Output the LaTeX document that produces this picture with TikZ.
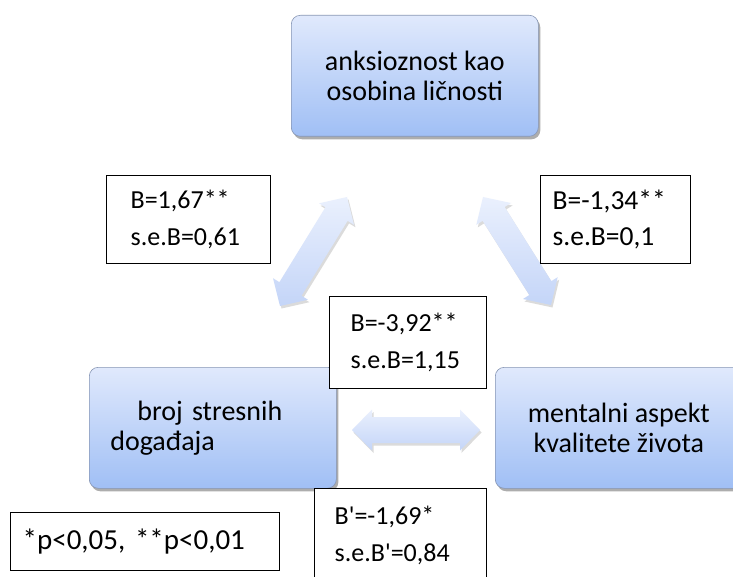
\documentclass[tikz,border=0pt]{standalone}
\usepackage{fontspec}
\setmainfont{Carlito}
\usetikzlibrary{calc,shadows}
\definecolor{boxtop}{RGB}{224,233,252}
\definecolor{boxbot}{RGB}{160,191,245}
\definecolor{boxline}{RGB}{135,150,180}
\definecolor{arrtop}{RGB}{234,240,253}
\definecolor{arrbot}{RGB}{196,213,248}
\tikzset{
  mainbox/.style={rectangle, rounded corners=9pt, draw=boxline, line width=0.6pt,
    top color=boxtop, bottom color=boxbot, minimum width=247pt, minimum height=121pt,
    inner sep=0pt, anchor=north west, font=\fontsize{28}{30}\selectfont,
    drop shadow={shadow xshift=2pt, shadow yshift=-3pt, opacity=0.4, fill=black!80}},
  labelbox/.style={rectangle, draw=black, line width=1.3pt, fill=white, inner ysep=0pt,
    anchor=north west, align=left, font=\fontsize{26}{37.5}\selectfont},
  blockarr/.style={top color=arrtop, bottom color=arrbot,
    drop shadow={shadow xshift=1.5pt, shadow yshift=-2.5pt, opacity=0.2, fill=black!70}}
}
\newcommand\blockarrow[2]{%
  \coordinate (#1h) at ($(#1)!20pt!(#2)$);
  \coordinate (#2h) at ($(#2)!20pt!(#1)$);
  \path[blockarr] (#1) -- ($(#1h)!20.5pt!90:(#2)$) -- ($(#1h)!13pt!90:(#2)$)
    -- ($(#2h)!13pt!-90:(#1)$) -- ($(#2h)!20.5pt!-90:(#1)$) -- (#2)
    -- ($(#2h)!20.5pt!90:(#1)$) -- ($(#2h)!13pt!90:(#1)$)
    -- ($(#1h)!13pt!-90:(#2)$) -- ($(#1h)!20.5pt!-90:(#2)$) -- cycle;}
\begin{document}
\begin{tikzpicture}[x=1pt, y=-1pt]
\clip (0,0) rectangle (733,577);
\fill[white] (0,0) rectangle (733,577);
% connector ends
\coordinate (la) at (347,197);
\coordinate (lb) at (280,306);
\coordinate (ra) at (483,197);
\coordinate (rb) at (551,305);
\coordinate (ha) at (352,430);
\coordinate (hb) at (480,430);
\blockarrow{la}{lb}
\blockarrow{ra}{rb}
\blockarrow{ha}{hb}
% main boxes
\node[mainbox, align=center] (anx) at (291,15) {anksioznost kao\\osobina ličnosti};
\node[mainbox, align=left, text width=205pt, inner xsep=21pt, minimum width=0pt] (stres) at (89,367) {\hspace*{27pt}broj stresnih\\događaja};
\node[mainbox, align=center] (mental) at (495,367) {mentalni aspekt\\kvalitete života};
% labels
\node[labelbox, minimum width=160pt, minimum height=88pt, text width=116pt, inner xsep=24pt] (l1) at (106,175) {B=1,67**\\s.e.B=0,61};
\node[labelbox, minimum width=150pt, minimum height=88pt, text width=126pt, inner xsep=12pt, font=\fontsize{27.5}{36}\selectfont] (l2) at (540,175) {B=-1,34**\\s.e.B=0,1};
\node[labelbox, minimum width=157pt, minimum height=92pt, text width=115pt, inner xsep=21pt] (l3) at (329,296) {B=-3,92**\\s.e.B=1,15};
\node[labelbox, minimum width=172pt, minimum height=94pt, text width=132pt, inner xsep=20pt] (l4) at (314,488) {B\textquotesingle=-1,69*\\s.e.B\textquotesingle=0,84};
\node[labelbox, minimum width=269pt, minimum height=58pt, inner xsep=12pt, align=left, text width=245pt, font=\fontsize{29}{36}\selectfont] (leg) at (10,512) {*p<0,05, **p<0,01};
\end{tikzpicture}
\end{document}
